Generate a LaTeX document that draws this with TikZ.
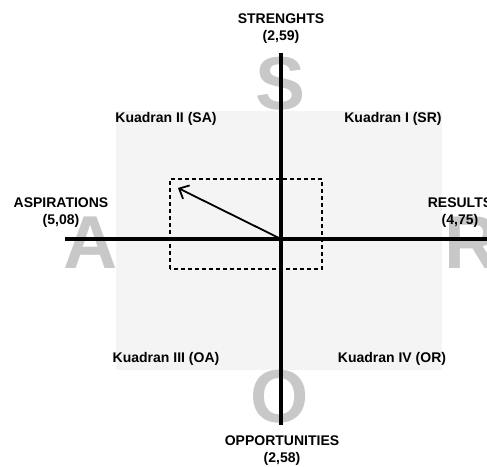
\documentclass[tikz,border=0pt]{standalone}
\usepackage{fontspec}
\setmainfont{Liberation Sans}
\usetikzlibrary{arrows.meta}
\definecolor{BigGray}{RGB}{200,200,200}
\definecolor{PanelGray}{RGB}{244,244,244}

\begin{document}
\begin{tikzpicture}[x=1pt,y=1pt,
    every node/.style={font=\fontsize{14}{17}\selectfont\bfseries, align=center, inner sep=0pt},
    bigletter/.style={font=\fontsize{75}{75}\selectfont\bfseries, text=BigGray},
    axis/.style={line width=3.2pt},
    zone/.style={dashed, line width=1.2pt, dash pattern=on 4pt off 3pt}]
  \useasboundingbox (-281,-227) rectangle (206,239);
  \fill[PanelGray] (-165,-131) rectangle (161,128);
  % big letters behind the axes
  \node[bigletter] (s) at (0,155) {S};
  \node[bigletter] (a) at (-190,-4) {A};
  \node[bigletter] (r) at (191,-4) {R};
  \node[bigletter] (o) at (-1,-158) {O};
  \coordinate (c) at (0,0);
  \coordinate (top) at (0,186);
  \coordinate (bottom) at (0,-186);
  \coordinate (left) at (-216,0);
  \coordinate (right) at (210,0);
  \coordinate (tip) at (-103,51);
  \draw[zone] (-111,-30) rectangle (41,60);
  \draw[axis] (top) -- (bottom);
  \draw[axis] (left) -- (right);
  \draw[-{Straight Barb[length=8pt,width=15pt]}, line width=1.8pt] (c) -- (tip);
  \node (str) at (0,210.5) {STRENGHTS\\(2,59)};
  \node (asp) at (-220,26.5) {ASPIRATIONS\\(5,08)};
  \node (res) at (179,26.5) {RESULTS\\(4,75)};
  \node (opp) at (1,-211.5) {OPPORTUNITIES\\(2,58)};
  \node (k2) at (-115,120) {Kuadran II (SA)};
  \node (k1) at (112,120) {Kuadran I (SR)};
  \node (k3) at (-115,-120) {Kuadran III (OA)};
  \node (k4) at (111,-120) {Kuadran IV (OR)};
\end{tikzpicture}
\end{document}
